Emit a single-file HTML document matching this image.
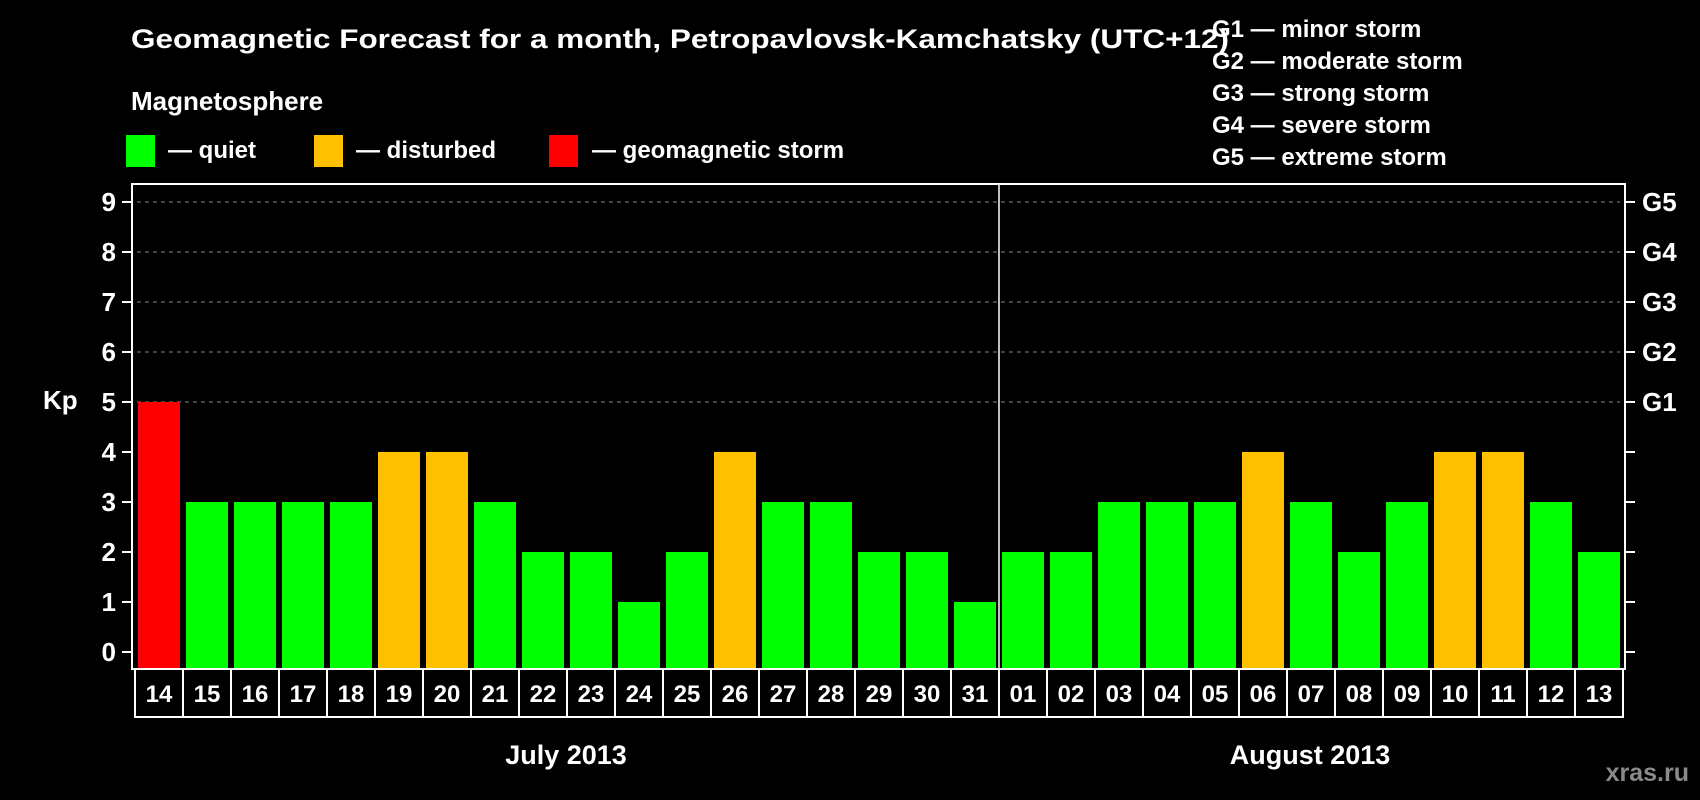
<!DOCTYPE html>
<html><head><meta charset="utf-8"><style>
html,body{margin:0;padding:0;background:#000;}
svg{display:block;font-family:"Liberation Sans",Arial,sans-serif;font-weight:bold;}
</style></head><body>
<svg id="chart" width="1700" height="800" viewBox="0 0 1700 800" xmlns="http://www.w3.org/2000/svg">
<rect x="0" y="0" width="1700" height="800" fill="#000"/>
<text x="131" y="48" fill="#fff" font-size="27" textLength="1098" lengthAdjust="spacingAndGlyphs">Geomagnetic Forecast for a month, Petropavlovsk-Kamchatsky (UTC+12)</text>
<text x="131" y="110" fill="#fff" font-size="26">Magnetosphere</text>
<g><rect x="126" y="135" width="29" height="32" fill="#00ff00"/><text x="168" y="158" fill="#fff" font-size="24">— quiet</text></g>
<g><rect x="314" y="135" width="29" height="32" fill="#ffc000"/><text x="356" y="158" fill="#fff" font-size="24">— disturbed</text></g>
<g><rect x="549" y="135" width="29" height="32" fill="#ff0000"/><text x="592" y="158" fill="#fff" font-size="24">— geomagnetic storm</text></g>
<g fill="#fff" font-size="24">
<text x="1212" y="37">G1 — minor storm</text>
<text x="1212" y="69">G2 — moderate storm</text>
<text x="1212" y="101">G3 — strong storm</text>
<text x="1212" y="133">G4 — severe storm</text>
<text x="1212" y="165">G5 — extreme storm</text>
</g>
<g id="grid"></g>
<g id="bars"></g>
<rect x="132" y="184" width="1493" height="485" fill="none" stroke="#fff" stroke-width="2"/>
<line x1="999" y1="184" x2="999" y2="669" stroke="#fff" stroke-width="1.5"/>
<g id="axes"></g>
<text x="43" y="409" fill="#fff" font-size="26">Kp</text>
<text x="566" y="764" fill="#fff" font-size="27" text-anchor="middle">July 2013</text>
<text x="1310" y="764" fill="#fff" font-size="27" text-anchor="middle">August 2013</text>
<text x="1689" y="781" fill="#8a8a8a" font-size="25" text-anchor="end">xras.ru</text>
</svg>
<script>
const days = ["14","15","16","17","18","19","20","21","22","23","24","25","26","27","28","29","30","31","01","02","03","04","05","06","07","08","09","10","11","12","13"];
const kpValues = [5,3,3,3,3,4,4,3,2,2,1,2,4,3,3,2,2,1,2,2,3,3,3,4,3,2,3,4,4,3,2];
const yTicks = [0,1,2,3,4,5,6,7,8,9];
const gLabels = ["G1","G2","G3","G4","G5"];
const NS='http://www.w3.org/2000/svg';
function yScale(v){return 652 - v*50;}
function xScale(i){return 138 + i*48;}
function colorFor(v){return v>=5?'#ff0000':(v>=4?'#ffc000':'#00ff00');}
function mk(tag,attrs,parent){const e=document.createElementNS(NS,tag);for(const k in attrs)e.setAttribute(k,attrs[k]);parent.appendChild(e);return e;}
const grid=document.getElementById('grid'),bars=document.getElementById('bars'),axes=document.getElementById('axes');
for(let v=5;v<=9;v++){
  const l=mk('line',{x1:137,x2:1620,y1:yScale(v),y2:yScale(v),stroke:'#888','stroke-width':1,'stroke-dasharray':'4 4'},grid);
  
  
}
kpValues.forEach((v,i)=>{
  const r=mk('rect',{x:xScale(i),y:yScale(v),width:42,height:669-yScale(v),fill:colorFor(v)},bars);
  
  
  const b=mk('rect',{x:xScale(i)-3,y:669,width:48,height:48,fill:'none',stroke:'#fff','stroke-width':2},axes);
  
  
  const t=mk('text',{x:xScale(i)+21,y:702,fill:'#fff','font-size':24,'text-anchor':'middle'},axes);
  t.textContent=days[i];
  
  
});
yTicks.forEach(v=>{
  const y=yScale(v);
  const tl=mk('line',{x1:122,x2:132,y1:y,y2:y,stroke:'#fff','stroke-width':2},axes);
  
  
  const tr=mk('line',{x1:1625,x2:1635,y1:y,y2:y,stroke:'#fff','stroke-width':2},axes);
  
  
  const t=mk('text',{x:116,y:y+9,fill:'#fff','font-size':26,'text-anchor':'end'},axes);
  t.textContent=String(v);
  
  
});
gLabels.forEach((g,k)=>{
  const t=mk('text',{x:1642,y:yScale(5+k)+9,fill:'#fff','font-size':26},axes);
  t.textContent=g;
  
  
});
</script>
</body></html>
